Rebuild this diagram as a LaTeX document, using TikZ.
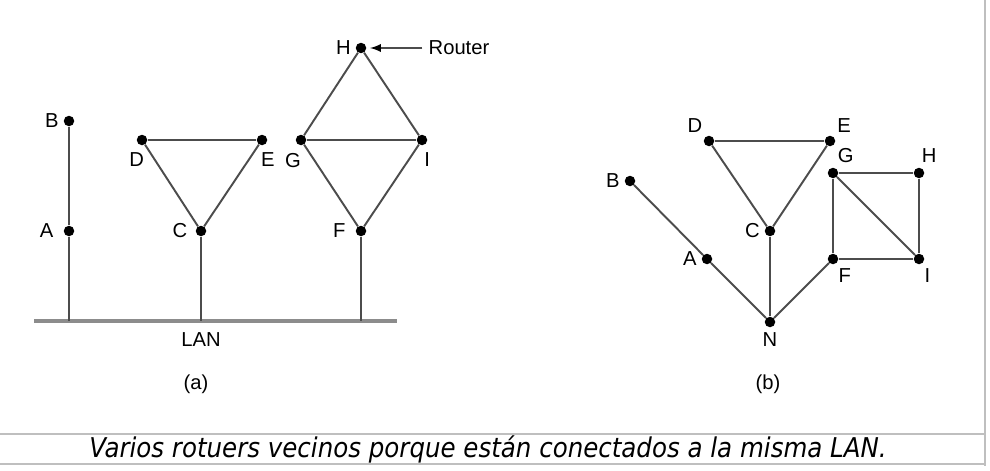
\documentclass[tikz,border=0pt]{standalone}
\usepackage{fontspec}
\setmainfont{Liberation Sans}
\newfontfamily\capfont[FakeStretch=0.9]{DejaVu Sans}
\usetikzlibrary{positioning,calc}

\begin{document}
\begin{tikzpicture}[x=0.02cm, y=-0.02cm, font=\fontsize{11.5}{13}\selectfont,
        dot/.style={fill=black, shape=circle, inner sep=0pt, minimum size=0.21cm},
        link/.style={line width=1.1pt, draw=black!70},
        lanline/.style={line width=1.8pt, draw=black!45},
        frame/.style={line width=1.1pt, draw=black!25},
        every label/.style={inner sep=1pt, font=\fontsize{11.5}{13}\selectfont},
        label distance=1.5pt]
        \useasboundingbox (0,0) rectangle (990,470);
        \node[dot, label=left:B] (aB) at (69,121) {};
        \node[dot, label={[label distance=4.5pt]left:A}] (aA) at (69,231) {};
        \node[dot, label={[label distance=3pt, xshift=-3pt]below:D}] (aD) at (142,140) {};
        \node[dot, label={[label distance=3pt, xshift=3.4pt]below:E}] (aE) at (262,140) {};
        \node[dot, label={[label distance=3.5pt]left:C}] (aC) at (201,231) {};
        \node[dot, label=left:H] (aH) at (361,48) {};
        \node[dot, label={[label distance=3pt, xshift=-4.5pt]below:G}] (aG) at (301,140) {};
        \node[dot, label={[label distance=3pt, xshift=3pt]below:I}] (aI) at (422,140) {};
        \node[dot, label={[label distance=4.5pt]left:F}] (aF) at (361,231) {};
        \node (router) at (459,48) {Router};
        \coordinate (lanL) at (34,321);
        \coordinate (lanR) at (397,321);
        \draw[lanline] (lanL) -- (lanR);
        \node (lan) at (201,340) {LAN};
        \node (capa) at (196,384) {(a)};
        \draw[link] (aB) edge (aA) (aA) edge (aA |- lanL) (aC) edge (aC |- lanL) (aF) edge (aF |- lanL) (aD) edge (aE) (aD) edge (aC) (aE) edge (aC) (aH) edge (aG) (aH) edge (aI) (aG) edge (aI) (aG) edge (aF) (aI) edge (aF);
        \draw[link, shorten >=2pt] (router) edge[-latex] (aH);
        \node[dot, label=left:B] (bB) at (630,181) {};
        \node[dot, label=left:A] (bA) at (707,259) {};
        \node[dot, label=left:C] (bC) at (770,231) {};
        \node[dot, label=125:D] (bD) at (709,141) {};
        \node[dot, label=50:E] (bE) at (830,141) {};
        \node[dot, label=70:G] (bG) at (833,173) {};
        \node[dot, label=85:H] (bH) at (919,173) {};
        \node[dot, label=-65:F] (bF) at (833,259) {};
        \node[dot, label=-65:I] (bI) at (919,259) {};
        \node[dot, label=below:N] (bN) at (770,322) {};
        \node (capb) at (768,384) {(b)};
        \draw[link] (bB) edge (bA) (bA) edge (bN) (bN) edge (bC) (bN) edge (bF) (bC) edge (bD) (bC) edge (bE) (bD) edge (bE) (bG) edge (bH) (bH) edge (bI) (bI) edge (bF) (bF) edge (bG) (bG) edge (bI);
        \draw[frame] (0,434) -- (985,434);
        \draw[frame] (0,464) -- (985,464);
        \draw[frame] (985,0) -- (985,466);
        \node[font=\capfont\itshape\fontsize{15.5}{17}\selectfont] (cap) at (488,449) {Varios rotuers vecinos porque están conectados a la misma LAN.};
\end{tikzpicture}
\end{document}
